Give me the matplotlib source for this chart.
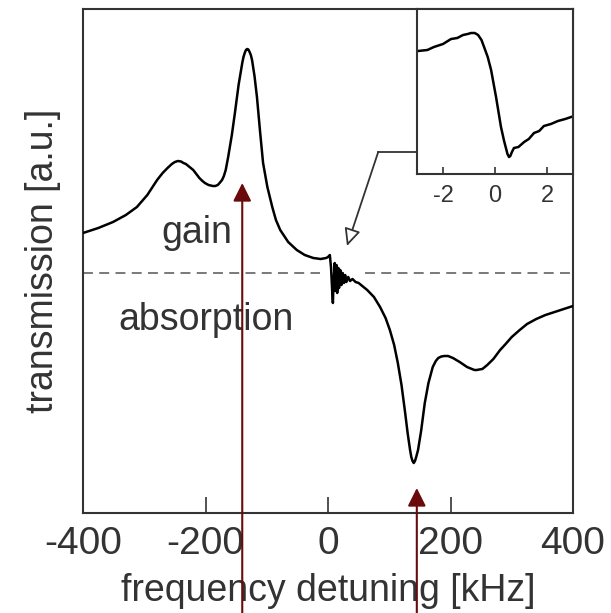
import matplotlib

matplotlib.use("Agg")
import matplotlib.pyplot as plt

plt.rcParams["font.family"] = ["Liberation Sans", "DejaVu Sans"]
plt.rcParams["axes.unicode_minus"] = False

# main trace: detuning in kHz, transmission in a.u. (0 = gain/absorption boundary)
detuning = [-400, -375, -351, -330, -312, -295, -279, -270, -262, -255, -250, -245, -240, -236,
            -232, -226, -220, -215, -210, -205, -201, -195, -188, -184, -180, -177, -173, -170,
            -167, -163, -157, -152, -146, -140, -138, -136, -134, -132, -130, -128, -126, -124,
            -120, -116, -111, -106, -99, -91, -85, -78, -65, -51, -38, -24, -12, -3,
            0, 3, 5, 7, 8, 9, 11, 12, 14, 15, 17, 18, 20, 22, 24, 26, 28, 30, 33, 36, 40, 45,
            50, 64, 75, 85, 94, 101, 108, 114, 120, 126, 130, 134, 136, 138, 140, 142, 144, 147,
            152, 158, 164, 171, 176, 180, 185, 190, 196, 204, 215, 227, 235, 239, 243, 247, 252,
            260, 270, 281, 290, 300, 313, 325, 340, 355, 370, 385, 400]
transmission = [0.40, 0.45, 0.51, 0.58, 0.66, 0.78, 0.93, 1.00, 1.05, 1.09, 1.11, 1.12, 1.115, 1.10,
                1.09, 1.06, 1.03, 0.99, 0.95, 0.92, 0.90, 0.88, 0.87, 0.87, 0.88, 0.90, 0.93, 0.97,
                1.03, 1.16, 1.38, 1.60, 1.88, 2.10, 2.16, 2.20, 2.23, 2.24, 2.235, 2.21, 2.18, 2.13,
                1.97, 1.76, 1.42, 1.10, 0.86, 0.66, 0.53, 0.43, 0.31, 0.23, 0.18, 0.15, 0.14, 0.15,
                0.16, 0.18, 0.05, -0.20, -0.30, -0.10, 0.10, -0.18, 0.08, -0.20, 0.05, -0.15, 0.03,
                -0.12, 0.00, -0.10, -0.02, -0.09, -0.04, -0.08, -0.06, -0.09,
                -0.10, -0.17, -0.24, -0.34, -0.45, -0.57, -0.72, -0.90, -1.12, -1.40, -1.60, -1.77,
                -1.84, -1.88, -1.90, -1.88, -1.84, -1.77, -1.58, -1.30, -1.10, -0.94, -0.88, -0.85,
                -0.835, -0.83, -0.83, -0.85, -0.89, -0.94, -0.96, -0.97, -0.97, -0.965, -0.96,
                -0.92, -0.86, -0.77, -0.71, -0.64, -0.57, -0.51, -0.46, -0.42, -0.39, -0.36, -0.33]

# zoom around zero detuning (inset)
inset_detuning = [-2.96, -2.6, -2.35, -2.0, -1.69, -1.45, -1.23, -1.05, -0.92, -0.78, -0.65, -0.52,
                  -0.42, -0.28, -0.15, 0.04, 0.23, 0.35, 0.42, 0.48, 0.54, 0.59, 0.65, 0.73, 0.9,
                  1.12, 1.3, 1.50, 1.7, 1.88, 2.15, 2.42, 2.7, 3.04]
inset_transmission = [1.23, 1.24, 1.27, 1.30, 1.35, 1.36, 1.39, 1.40, 1.41, 1.41, 1.39, 1.34,
                      1.27, 1.17, 1.04, 0.77, 0.47, 0.33, 0.26, 0.20, 0.17, 0.18, 0.22, 0.26, 0.27,
                      0.32, 0.35, 0.41, 0.43, 0.48, 0.50, 0.53, 0.55, 0.58]

main_ticks = [-400, -200, 0, 200, 400]
inset_ticks = [-2, 0, 2]
marked = [(-140, 0.90), (145, -2.15)]

GRAY = "#333333"
RED = "#6b0a0a"

fig = plt.figure(figsize=(6.11, 6.13), dpi=100)
ax = fig.add_axes([83 / 611, 100 / 613, 490 / 611, 504 / 613])
ax.plot(detuning, transmission, color="black", lw=1.8, zorder=3,
        solid_joinstyle="round", solid_capstyle="round")
ax.plot([-400, -13], [0, 0], color="#6e6e6e", lw=1.3, ls=(0, (5.5, 3.5)), zorder=2)
ax.plot([60, 400], [0, 0], color="#6e6e6e", lw=1.3, ls=(0, (5.5, 3.5)), zorder=2)
ax.set_xlim(-400, 400)
ax.set_ylim(-2.40, 2.64)
ax.set_xticks(main_ticks)
ax.set_yticks([])
ax.tick_params(axis="x", direction="in", length=11.5, width=1.2, color=GRAY,
               labelsize=28, labelcolor=GRAY, pad=9)
for s in ax.spines.values():
    s.set_linewidth(1.5)
    s.set_color(GRAY)
ax.set_xlabel("frequency detuning [kHz]", fontsize=27, color=GRAY, labelpad=8)
ax.set_ylabel("transmission [a.u.]", fontsize=27, color=GRAY, labelpad=16)

ax.text(-214, 0.30, "gain", fontsize=27, color=GRAY, ha="center", va="baseline")
ax.text(-199, -0.57, "absorption", fontsize=27, color=GRAY, ha="center", va="baseline")

# pointer from the inset to the zero-detuning feature
ax.plot([145, 82], [1.21, 1.21], color=GRAY, lw=1.3, zorder=4)
ax.annotate("", xy=(31, 0.27), xytext=(82, 1.21),
            arrowprops=dict(arrowstyle="-|>,head_length=0.75,head_width=0.35", fc="white",
                            ec=GRAY, lw=1.3, shrinkA=0, shrinkB=0, mutation_scale=14))

for x, y in marked:
    ax.annotate("", xy=(x, y), xytext=(x, -3.45), annotation_clip=False, zorder=10,
                arrowprops=dict(arrowstyle="-|>,head_length=1.1,head_width=0.55", color=RED,
                                lw=1.5, shrinkA=0, shrinkB=0, mutation_scale=10))

ins = fig.add_axes([417 / 611, 439 / 613, 156 / 611, 165 / 613])
ins.plot(inset_detuning, inset_transmission, color="black", lw=1.8, solid_joinstyle="round")
ins.set_xlim(-3, 3)
ins.set_ylim(0, 1.65)
ins.set_xticks(inset_ticks)
ins.set_yticks([])
ins.tick_params(axis="x", direction="in", length=5, width=1.2, color=GRAY,
                labelsize=17, labelcolor=GRAY, pad=8)
for s in ins.spines.values():
    s.set_linewidth(1.5)
    s.set_color(GRAY)

fig.savefig("out.png", dpi=100)
